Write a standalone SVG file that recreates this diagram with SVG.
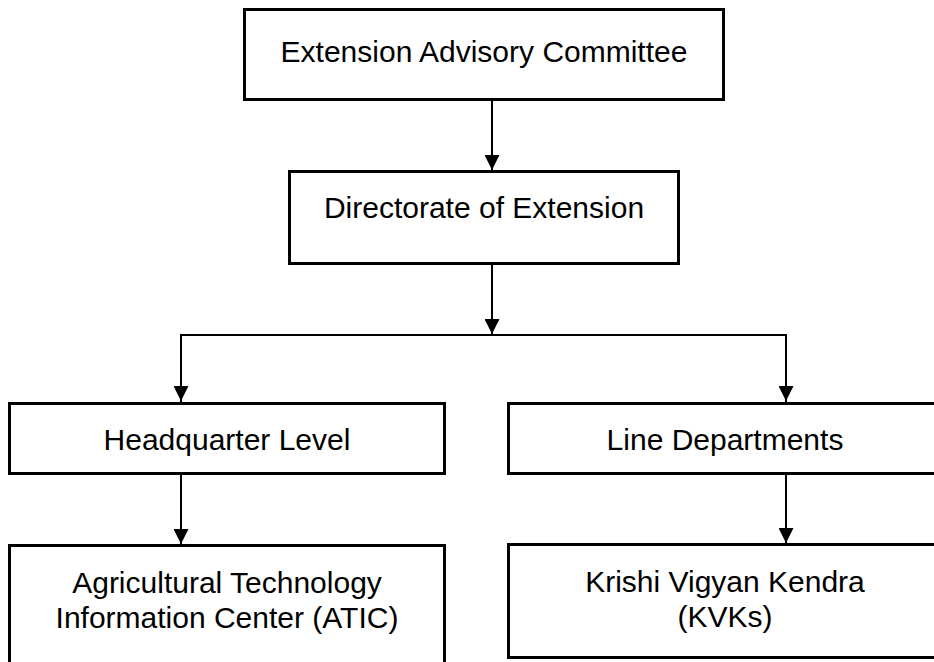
<svg xmlns="http://www.w3.org/2000/svg" width="934" height="662" viewBox="0 0 934 662">
<defs>
<marker id="arr" viewBox="0 0 15 15" refX="15" refY="7.5" markerWidth="15" markerHeight="15" markerUnits="userSpaceOnUse" orient="auto">
<path d="M0,0 L15,7.5 L0,15 Z" fill="#000"/>
</marker>
<style>
.box{fill:#fff;stroke:#000;stroke-width:3}
.t{font-family:"Liberation Sans",Arial,sans-serif;font-size:30px;fill:#000;text-anchor:middle}
.c{fill:none;stroke:#000;stroke-width:2}
</style>
</defs>
<rect width="934" height="662" fill="#fff"/>
<g id="connectors">
<line class="c" x1="492" y1="100" x2="492" y2="170" marker-end="url(#arr)"/>
<line class="c" x1="492" y1="264" x2="492" y2="334" marker-end="url(#arr)"/>
<polyline class="c" points="181,402 181,335 786,335 786,402"/>
<line class="c" x1="181" y1="336" x2="181" y2="401" marker-end="url(#arr)"/>
<line class="c" x1="786" y1="336" x2="786" y2="401" marker-end="url(#arr)"/>
<line class="c" x1="181" y1="474" x2="181" y2="544" marker-end="url(#arr)"/>
<line class="c" x1="786" y1="474" x2="786" y2="543" marker-end="url(#arr)"/>
</g>
<g id="n1">
<rect class="box" x="244.5" y="9.5" width="479" height="90"/>
<text class="t" x="484" y="62">Extension Advisory Committee</text>
</g>
<g id="n2">
<rect class="box" x="289.5" y="171.5" width="389" height="92"/>
<text class="t" x="484" y="218">Directorate of Extension</text>
</g>
<g id="n3">
<rect class="box" x="9.5" y="403.5" width="435" height="70"/>
<text class="t" x="227" y="450">Headquarter Level</text>
</g>
<g id="n4">
<rect class="box" x="508.5" y="403.5" width="434" height="70"/>
<text class="t" x="725" y="450">Line Departments</text>
</g>
<g id="n5">
<rect class="box" x="9.5" y="545.5" width="435" height="130"/>
<text class="t" x="227" y="593">Agricultural Technology</text>
<text class="t" x="227" y="628">Information Center (ATIC)</text>
</g>
<g id="n6">
<rect class="box" x="508.5" y="544.5" width="434" height="113"/>
<text class="t" x="725" y="592">Krishi Vigyan Kendra</text>
<text class="t" x="725" y="627">(KVKs)</text>
</g>
</svg>
